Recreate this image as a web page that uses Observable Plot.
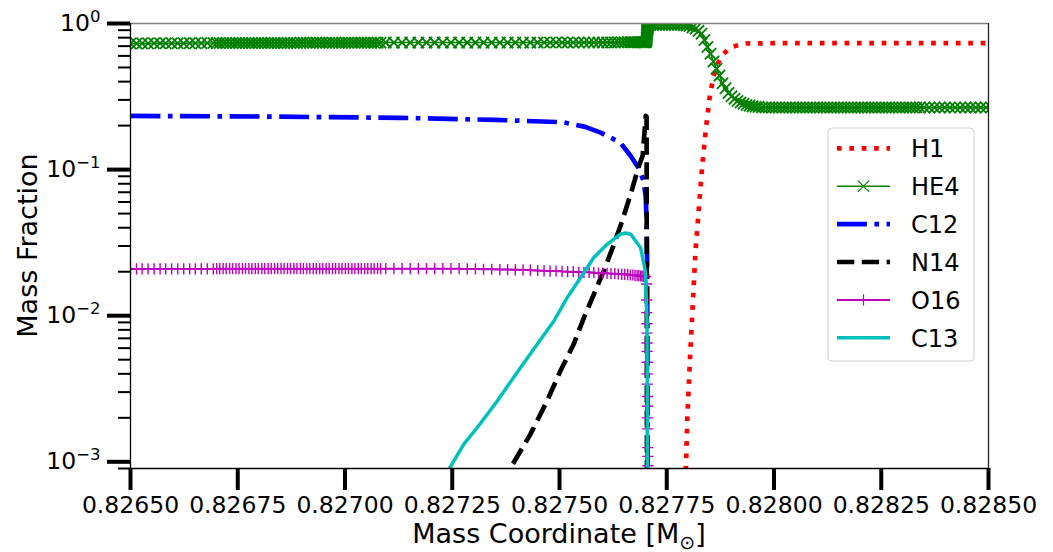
<!DOCTYPE html>
<html><head><meta charset="utf-8">
<script src="https://cdn.jsdelivr.net/npm/d3@7"></script>
<script src="https://cdn.jsdelivr.net/npm/@observablehq/plot@0.6"></script>
<style>body{margin:0;background:#fff;} svg{font-family:"DejaVu Sans";}</style>
</head><body><div id="chart"></div>
<script>
// ---------- axis ticks ----------
const xTicks = [0.8265, 0.82675, 0.827, 0.82725, 0.8275, 0.82775, 0.828, 0.82825, 0.8285];
const yMajor = [1e-3, 1e-2, 1e-1, 1];
const yMinor = [9e-4, 2e-3, 3e-3, 4e-3, 5e-3, 6e-3, 7e-3, 8e-3, 9e-3,
                2e-2, 3e-2, 4e-2, 5e-2, 6e-2, 7e-2, 8e-2, 9e-2,
                2e-1, 3e-1, 4e-1, 5e-1, 6e-1, 7e-1, 8e-1, 9e-1];
const xDomain = [0.8265, 0.8285];
const yDomain = [9e-4, 1];
const seriesNames = ["H1", "HE4", "C12", "N14", "O16", "C13"];

// ---------- model zones (mass coordinate) used by HE4 and O16 ----------
const mesh = [
 0.826500,0.826514,0.826527,0.826541,0.826555,0.826569,0.826582,0.826596,0.826610,0.826624,0.826638,0.826651,0.826665,0.826679,0.826693,
 0.826701,0.826708,0.826716,0.826723,0.826731,0.826738,0.826746,0.826753,0.826761,0.826768,
 0.826776,0.826783,0.826791,0.826798,0.826806,0.826813,0.826821,0.826828,0.826836,0.826843,
 0.826851,0.826858,0.826866,0.826873,0.826881,0.826888,0.826896,0.826903,0.826911,0.826918,
 0.826926,0.826933,0.826941,0.826948,0.826956,0.826963,0.826971,0.826978,0.826986,0.826993,
 0.827001,0.827008,0.827016,0.827023,0.827031,0.827038,0.827046,0.827053,0.827061,0.827068,
 0.827076,0.827083,
 0.827095,0.827114,0.827133,0.827152,0.827171,0.827190,0.827209,0.827228,0.827247,0.827266,
 0.827285,0.827304,0.827323,0.827342,0.827361,0.827379,0.827397,0.827415,0.827432,0.827449,
 0.827464,0.827478,0.827492,0.827506,0.827519,0.827532,0.827545,0.827557,0.827569,0.827580,
 0.827591,0.827601,0.827611,0.827620,0.827629,0.827637,0.827645,0.827652,0.827659,0.827665,
 0.827671,0.827676,0.827681,0.827685,0.827689,0.827692,0.827695,0.827697,0.827699,0.827701,
 0.8277030,0.8277032,0.8277034,0.8277036,0.8277038,0.8277040,0.8277042,0.8277044,0.8277046,0.8277048,
 0.8277050,0.8277052,0.8277054,0.8277056,0.8277058,0.8277060,0.8277062,0.8277064,
 0.827712,0.827719,0.827726,0.827733,0.827740,0.827747,0.827754,0.827761,0.827768,0.827775,
 0.827782,0.827789,0.827796,0.827803,0.827810,0.827817,0.827824,
 0.827831,0.827838,0.827845,0.827852,0.827859,0.827866,0.827873,0.827880,0.827887,0.827894,
 0.827901,0.827908,0.827915,0.827922,0.827929,0.827936,0.827943,0.827950,0.827957,0.827964,
 0.827972,0.827980,0.827988,0.827996,0.828004,0.828012,0.828020,0.828028,0.828036,0.828044,
 0.828052,0.828060,0.828068,0.828076,0.828084,0.828092,0.828100,0.828108,0.828116,0.828124,
 0.828132,0.828140,0.828148,0.828156,0.828164,0.828172,0.828180,0.828188,0.828196,0.828204,
 0.828212,0.828220,0.828228,0.828236,0.828244,0.828252,0.828260,0.828268,0.828276,0.828284,
 0.828292,0.828300,0.828308,0.828316,0.828324,0.828332,0.828340,0.828350,0.828362,0.828374,
 0.828386,0.828398,0.828410,0.828422,0.828434,0.828446,0.828458,0.828470,0.828482,0.828494,0.828506
];
const he4 = [
 0.730,0.730,0.731,0.731,0.732,0.732,0.732,0.733,0.733,0.733,0.734,0.734,0.734,0.735,0.735,
 0.735,0.735,0.735,0.735,0.735,0.735,0.735,0.735,0.735,0.735,
 0.735,0.735,0.735,0.735,0.735,0.735,0.735,0.735,0.735,0.735,
 0.735,0.735,0.735,0.735,0.735,0.735,0.738,0.738,0.738,0.738,
 0.738,0.738,0.738,0.738,0.738,0.738,0.738,0.738,0.738,0.738,
 0.738,0.738,0.738,0.738,0.738,0.738,0.738,0.738,0.738,0.738,
 0.738,0.738,
 0.740,0.740,0.740,0.740,0.740,0.740,0.740,0.740,0.740,0.740,
 0.740,0.740,0.740,0.740,0.740,0.740,0.740,0.740,0.740,0.740,
 0.742,0.742,0.742,0.742,0.742,0.742,0.742,0.742,0.742,0.742,
 0.742,0.742,0.742,0.742,0.742,0.745,0.745,0.745,0.745,0.745,
 0.745,0.745,0.745,0.745,0.745,0.745,0.745,0.745,0.745,0.745,
 0.76,0.78,0.80,0.82,0.84,0.86,0.88,0.89,0.90,0.91,
 0.92,0.93,0.94,0.95,0.96,0.97,0.975,0.98,
 0.98,0.98,0.98,0.98,0.98,0.98,0.98,0.98,0.98,0.98,
 0.98,0.975,0.97,0.96,0.94,0.92,0.89,
 0.85,0.77,0.69,0.62,0.55,0.49,0.44,0.39,0.36,0.335,
 0.318,0.305,0.295,0.288,0.282,0.277,0.274,0.271,0.269,0.268,
 0.266,0.266,0.266,0.266,0.266,0.266,0.266,0.266,0.266,0.266,
 0.266,0.266,0.266,0.266,0.266,0.266,0.266,0.266,0.266,0.266,
 0.266,0.266,0.266,0.266,0.266,0.266,0.266,0.266,0.266,0.266,
 0.266,0.266,0.266,0.266,0.266,0.266,0.266,0.266,0.266,0.266,
 0.266,0.266,0.266,0.266,0.266,0.266,0.266,0.266,0.266,0.266,
 0.266,0.266,0.266,0.266,0.266,0.266,0.266,0.266,0.266,0.266,0.266
];
const o16 = [
 0.0209,0.0209,0.0209,0.0209,0.0209,0.0209,0.0209,0.0209,0.0209,0.0209,0.0209,0.0209,0.0209,0.0209,0.0209,
 0.0210,0.0210,0.0210,0.0210,0.0210,0.0210,0.0210,0.0210,0.0210,0.0210,
 0.0210,0.0210,0.0210,0.0210,0.0210,0.0210,0.0210,0.0210,0.0210,0.0210,
 0.0210,0.0210,0.0210,0.0210,0.0210,0.0210,0.0210,0.0210,0.0210,0.0210,
 0.0210,0.0210,0.0210,0.0210,0.0210,0.0210,0.0210,0.0210,0.0210,0.0210,
 0.0210,0.0210,0.0210,0.0210,0.0210,0.0210,0.0210,0.0210,0.0210,0.0210,
 0.0210,0.0210,
 0.0210,0.0210,0.0210,0.0210,0.0210,0.0210,0.0210,0.0210,0.0210,0.0210,
 0.0209,0.0209,0.0208,0.0208,0.0207,0.0207,0.0206,0.0206,0.0205,0.0204,
 0.0203,0.0202,0.0202,0.0201,0.0200,0.0200,0.0199,0.0198,0.0198,0.0197,
 0.0196,0.0196,0.0195,0.0194,0.0194,0.0193,0.0192,0.0192,0.0191,0.0190,
 0.0190,0.0189,0.0188,0.0188,0.0187,0.0187,0.0186,0.0186,0.0185,0.0185,
 0.0165,0.0128,0.0105,0.0088,0.0076,0.0065,0.0057,0.0048,0.0040,0.0034,
 0.0028,0.0024,0.0020,0.00168,0.00125,0.00109,0.00094,0.00080
];

// ---------- other species ----------
const h1Mass = [0.827790, 0.827795, 0.827798, 0.827805, 0.827817, 0.827833, 0.827842, 0.827850, 0.827859, 0.827870, 0.827882, 0.827900, 0.827934, 0.828000, 0.828100, 0.828200, 0.828300, 0.828400, 0.828500];
const h1Frac = [4e-4, 9.6e-4, 0.0020, 0.0057, 0.0277, 0.109, 0.199, 0.311, 0.434, 0.54, 0.62, 0.69, 0.73, 0.733, 0.733, 0.733, 0.733, 0.733, 0.733];

const c12Mass = [0.826500, 0.826800, 0.827130, 0.827350, 0.827509, 0.827560, 0.827596, 0.827642, 0.827666, 0.827684, 0.827696, 0.827701, 0.827703, 0.827704, 0.827705, 0.827706];
const c12Frac = [0.233, 0.231, 0.226, 0.219, 0.211, 0.196, 0.179, 0.153, 0.124, 0.103, 0.0837, 0.065, 0.045, 0.0277, 0.0057, 1e-4];

const n14Mass = [0.827360, 0.827386, 0.827432, 0.827471, 0.827502, 0.827533, 0.827557, 0.827580, 0.827603, 0.827627, 0.827646, 0.827666, 0.827684, 0.827694, 0.827701, 0.827703, 0.827705];
const n14Frac = [7e-4, 9.1e-4, 1.54e-3, 2.61e-3, 4.18e-3, 6.37e-3, 9.7e-3, 0.0140, 0.0202, 0.0308, 0.0445, 0.068, 0.104, 0.125, 0.233, 0.23, 1e-6];

const c13Mass = [0.827230, 0.827242, 0.827277, 0.827308, 0.827355, 0.827409, 0.827448, 0.827487, 0.827518, 0.827549, 0.827580, 0.827611, 0.827642, 0.827654, 0.827666, 0.827689, 0.827700, 0.827704, 0.8277045, 0.827705];
const c13Frac = [7e-4, 8.87e-4, 1.32e-3, 1.71e-3, 2.61e-3, 4.41e-3, 6.37e-3, 9.2e-3, 0.0133, 0.0182, 0.0250, 0.0308, 0.0361, 0.0368, 0.0361, 0.0292, 0.0202, 9.2e-3, 3.2e-3, 1e-5];

// ---------- styles ----------
const FONT = 23.5;
const LABEL_FONT = 27;
const LEGEND_FONT = 24;
const styles = {
  H1:  {stroke: "#ff0000", strokeWidth: 4.67, dash: "4.67,7.7"},
  HE4: {stroke: "#008000", strokeWidth: 1.5, dash: null, symbol: "times", r: 5.2, sw: 1.8},
  C12: {stroke: "#0000ff", strokeWidth: 4.67, dash: "29.9,7.5,4.67,7.5"},
  N14: {stroke: "#000000", strokeWidth: 4.67, dash: "17.3,7.5"},
  O16: {stroke: "#bf00bf", strokeWidth: 2, dash: null, symbol: "plus", r: 3.7, sw: 1.4},
  C13: {stroke: "#00bfbf", strokeWidth: 3.5, dash: null}
};

if (he4.length !== mesh.length) console.error("he4 length", he4.length, mesh.length);
const zip = (ms, vs) => vs.map((v, i) => ({m: ms[i], v})).filter(d => d.m !== undefined && d.v !== undefined);
const data = {
  H1: zip(h1Mass, h1Frac),
  HE4: zip(mesh, he4),
  C12: zip(c12Mass, c12Frac),
  N14: zip(n14Mass, n14Frac),
  O16: zip(mesh, o16),
  C13: zip(c13Mass, c13Frac)
};

const marks = [];
for (const name of seriesNames) {
  const s = styles[name];
  marks.push(Plot.line(data[name], {x: "m", y: "v", stroke: s.stroke, strokeWidth: s.strokeWidth,
    strokeDasharray: s.dash || undefined, strokeLinecap: s.dash ? "butt" : "round", clip: true}));
  if (s.symbol) {
    marks.push(Plot.dot(data[name], {x: "m", y: "v", symbol: s.symbol, r: s.r, stroke: s.stroke, strokeWidth: s.sw, fill: "none", clip: true}));
  }
}

const chart = Plot.plot({
  width: 1053, height: 552,
  marginLeft: 130, marginRight: 65, marginTop: 23, marginBottom: 84,
  style: {fontFamily: "DejaVu Sans", fontSize: FONT + "px", background: "#fff", overflow: "visible"},
  x: {domain: xDomain},
  y: {type: "log", domain: yDomain},
  marks: [
    ...marks,
    Plot.ruleY([yDomain[1]], {stroke: "#808080", strokeWidth: 1.3}),
    Plot.ruleX([xDomain[1]], {stroke: "#222", strokeWidth: 1.3}),
    Plot.ruleX([xDomain[0]], {stroke: "#000", strokeWidth: 1.3}),
    Plot.ruleY([yDomain[0]], {stroke: "#000", strokeWidth: 1.3}),
    Plot.axisX({ticks: xTicks, tickSize: 22, tickPadding: 6, strokeWidth: 4, fontSize: FONT, tickFormat: d3.format(".5f"), label: null}),
    Plot.axisY({ticks: yMajor, tickSize: 23, tickPadding: 7, strokeWidth: 4, fontSize: FONT, tickFormat: d => "10^" + Math.round(Math.log10(d)), label: null}),
    Plot.axisY({ticks: yMinor, tickSize: 12, strokeWidth: 2, tickFormat: () => "", label: null})
  ]
});
document.getElementById("chart").appendChild(chart);

const svg = d3.select(chart);
// superscript exponents on y tick labels
svg.selectAll("text").each(function() {
  const t = this.textContent;
  if (/^10\^/.test(t)) {
    const exp = t.split("^")[1].replace("-", "\u2212");
    const sel = d3.select(this);
    sel.text("10");
    sel.append("tspan").attr("font-size", 16.5).attr("dy", -9).text(exp);
  }
});

// axis titles
const xt = svg.append("text").attr("x", 559).attr("y", 543).attr("text-anchor", "middle")
  .attr("font-size", LABEL_FONT).attr("fill", "#000");
xt.append("tspan").text("Mass Coordinate [M");
xt.append("tspan").attr("font-size", 19).attr("dy", 6).text("\u2299");
xt.append("tspan").attr("dy", -6).text("]");
svg.append("text").attr("transform", "translate(37,245.5) rotate(-90)").attr("text-anchor", "middle")
  .attr("font-size", LABEL_FONT).attr("fill", "#000").text("Mass Fraction");

// legend
const lg = svg.append("g");
lg.append("rect").attr("x", 828).attr("y", 128).attr("width", 146).attr("height", 233).attr("rx", 4)
  .attr("fill", "#fff").attr("fill-opacity", 0.8).attr("stroke", "#d0d0d0").attr("stroke-width", 1);
seriesNames.forEach((name, i) => {
  const s = styles[name];
  const y = 148.3 + i * 37.9;
  lg.append("line").attr("x1", 837).attr("x2", 890).attr("y1", y).attr("y2", y)
    .attr("stroke", s.stroke).attr("stroke-width", s.strokeWidth)
    .attr("stroke-dasharray", s.dash).attr("stroke-linecap", "butt");
  if (s.symbol) {
    const sym = s.symbol === "times" ? d3.symbolTimes : d3.symbolPlus;
    lg.append("path").attr("transform", `translate(863.5,${y})`)
      .attr("d", d3.symbol(sym, Math.PI * s.r * s.r)())
      .attr("fill", "none").attr("stroke", s.stroke).attr("stroke-width", 1.2);
  }
  lg.append("text").attr("x", 911).attr("y", y + 9).attr("text-anchor", "start")
    .attr("font-size", LEGEND_FONT).attr("fill", "#000").text(name);
});
</script>
</body></html>
